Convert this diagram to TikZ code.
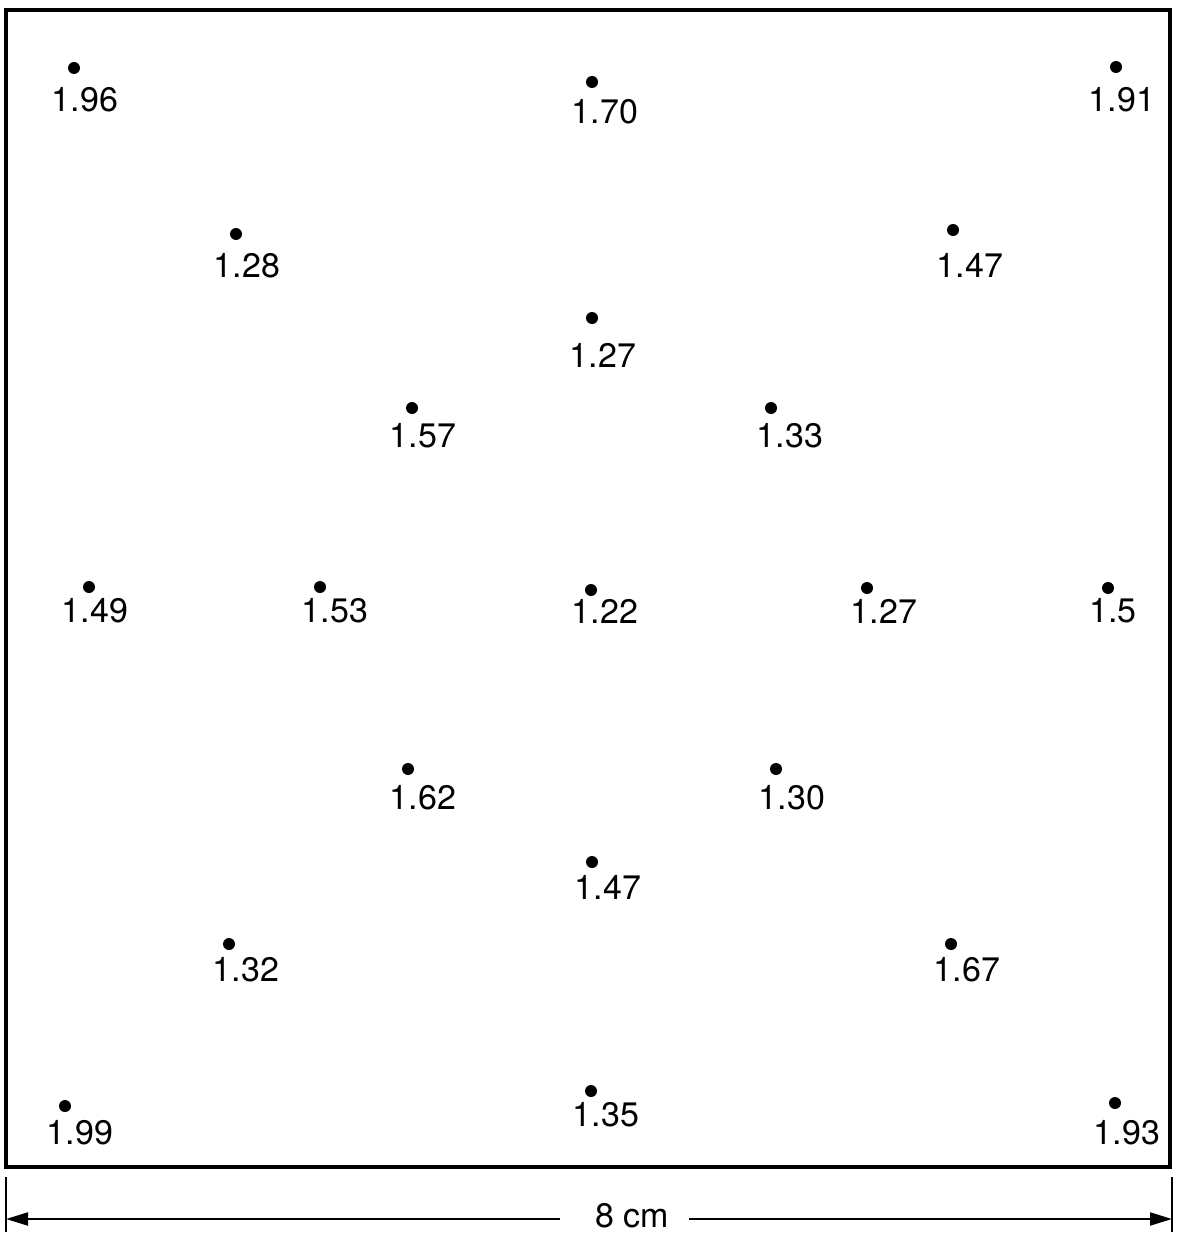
\documentclass[tikz,border=0pt]{standalone}
\usepackage{fontspec}
\setmainfont{TeX Gyre Heros}
\usetikzlibrary{positioning,arrows.meta}

\begin{document}
\begin{tikzpicture}[x=1pt, y=-1pt, font=\fontsize{34}{38}\selectfont,
  pt/.style={circle, fill=black, inner sep=0pt, minimum size=12pt},
  val/.style={inner sep=0pt, anchor=center},
  tick/.style={line width=2.5pt},
  dim/.style={line width=2pt, -{Triangle[length=22pt, width=13pt]}}]
\useasboundingbox (0,0) rectangle (1178,1233);
% plate outline
\draw[line width=3.5pt] (6,10) rectangle (1170,1167);
% measuring points and values
\foreach \i/\px/\py/\lx/\ly/\v in {
  1/74/68/85/100/1.96, 2/592/82/605/112/1.70, 3/1116/67/1122/100/1.91,
  4/236/234/247/266/1.28, 5/953/230/970/265/1.47, 6/592/318/603/355/1.27,
  7/412/408/423/436/1.57, 8/771/408/790/436/1.33,
  9/89/587/95/611/1.49, 10/320/587/335/611/1.53, 11/591/590/605/611/1.22,
  12/867/588/884/611/1.27, 13/1108/588/1113/611/1.5,
  14/408/769/423/798/1.62, 15/776/769/792/798/1.30, 16/592/862/608/887/1.47,
  17/229/944/246/970/1.32, 18/951/944/967/970/1.67,
  19/65/1106/80/1133/1.99, 20/591/1091/606/1115/1.35, 21/1115/1103/1127/1133/1.93} {
  \node[pt] (d\i) at (\px,\py) {};
  \node[val] (v\i) at (\lx,\ly) {\v};
}
% width dimension
\coordinate (dl) at (6,1219);
\coordinate (dr) at (1172,1219);
\draw[tick] (6,1177) -- (6,1232);
\draw[tick] (1172,1177) -- (1172,1232);
\node[inner sep=0pt] (w) at (632,1216) {8 cm};
\draw[dim] ([xshift=-35pt]w.west |- dl) -- (dl);
\draw[dim] ([xshift=20pt]w.east |- dr) -- (dr);
\end{tikzpicture}
\end{document}
